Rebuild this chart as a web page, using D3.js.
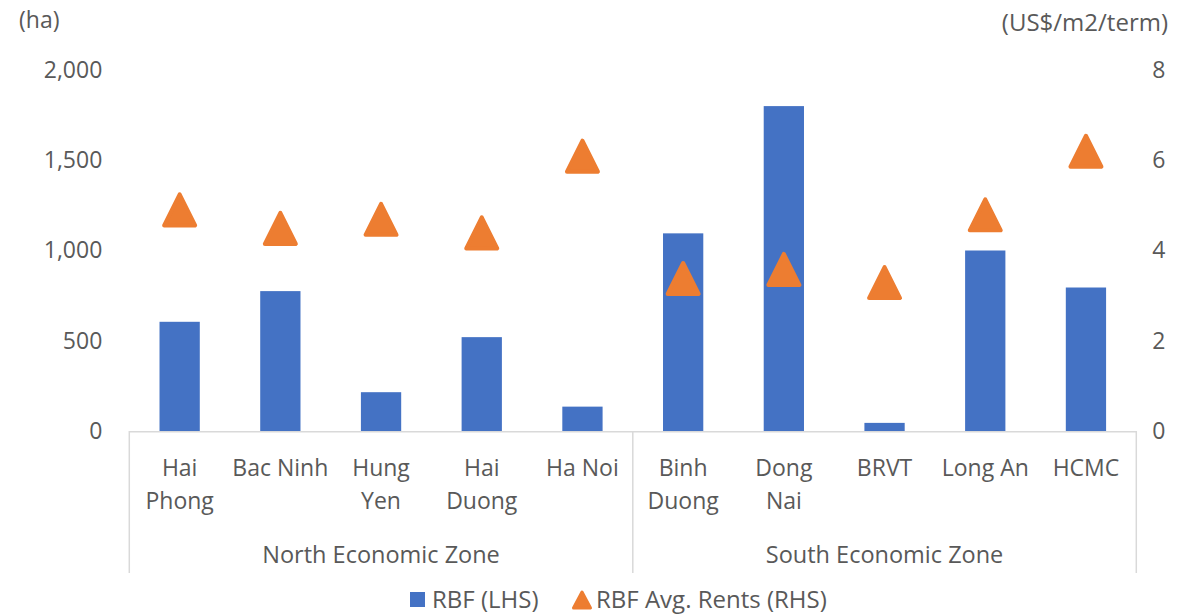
<!DOCTYPE html>
<html>
<head>
<meta charset="utf-8">
<script src="https://cdn.jsdelivr.net/npm/d3@7"></script>
<style>
  body { margin: 0; background: #fff; }
  text { font-family: "Open Sans", sans-serif; fill: #595959; }
</style>
</head>
<body>
<svg id="chart" width="1204" height="614"></svg>
<script>
// data
var cities = ["Hai Phong", "Bac Ninh", "Hung Yen", "Hai Duong", "Ha Noi",
              "Binh Duong", "Dong Nai", "BRVT", "Long An", "HCMC"];
var cityLines = [["Hai", "Phong"], ["Bac Ninh"], ["Hung", "Yen"], ["Hai", "Duong"], ["Ha Noi"],
                 ["Binh", "Duong"], ["Dong", "Nai"], ["BRVT"], ["Long An"], ["HCMC"]];
var zones = ["North Economic Zone", "North Economic Zone", "North Economic Zone", "North Economic Zone", "North Economic Zone",
             "South Economic Zone", "South Economic Zone", "South Economic Zone", "South Economic Zone", "South Economic Zone"];
var rbfArea = [605, 775, 215, 520, 135, 1095, 1800, 45, 1000, 795];
var avgRent = [4.9, 4.49, 4.69, 4.39, 6.09, 3.38, 3.58, 3.29, 4.79, 6.2];
var leftTicks = [0, 500, 1000, 1500, 2000];
var rightTicks = [0, 2, 4, 6, 8];

var svg = d3.select("#chart");
var plot = { left: 129.3, right: 1136.3, top: 70, bottom: 431 };
var fs = "23.5px";

var x = d3.scaleBand().domain(cities).range([plot.left, plot.right])
    .paddingInner(0.6).paddingOuter(0.3);
var yL = d3.scaleLinear().domain([0, 2000]).range([plot.bottom, plot.top]);
var yR = d3.scaleLinear().domain([0, 8]).range([plot.bottom, plot.top]);

//axes
var gl = svg.append("g").attr("transform", "translate(" + plot.left + ",0)")
    .call(d3.axisLeft(yL).tickValues(leftTicks).tickFormat(d3.format(",")).tickSize(0).tickPadding(27));
var gr = svg.append("g").attr("transform", "translate(" + plot.right + ",0)")
    .call(d3.axisRight(yR).tickValues(rightTicks).tickSize(0).tickPadding(16));
[gl, gr].forEach(function(g) {
    g.select(".domain").remove();
    g.selectAll("text").style("font-size", "23px").style("font-family", "Open Sans").attr("fill", "#595959");
});

svg.append("text").attr("x", 19).attr("y", 28).style("font-size", "23px").text("(ha)");
svg.append("text").attr("x", 1168).attr("y", 31).attr("text-anchor", "end").style("font-size", "24px").text("(US$/m2/term)");

//bars
svg.selectAll("rect.bar").data(cities).enter().append("rect")
    .attr("class", "bar")
    .attr("x", function(d) { return x(d); })
    .attr("width", x.bandwidth())
    .attr("y", function(d, i) { return yL(rbfArea[i]); })
    .attr("height", function(d, i) { return plot.bottom - yL(rbfArea[i]); })
    .attr("fill", "#4472C4");

// category axis with grouped zones
var grid = svg.append("g").attr("stroke", "#d9d9d9").attr("stroke-width", 1.5);
grid.append("line").attr("x1", plot.left).attr("x2", plot.right)
    .attr("y1", plot.bottom + 0.75).attr("y2", plot.bottom + 0.75);

var zoneNames = Array.from(new Set(zones));
var zoneEdges = [plot.left];
zoneNames.forEach(function(z) {
    var members = cities.filter(function(c, i) { return zones[i] === z; });
    var last = members[members.length - 1];
    zoneEdges.push(x(last) + x.bandwidth() + x.step() * x.paddingInner() / 2);
});
zoneEdges[zoneEdges.length - 1] = plot.right;
zoneEdges.forEach(function(e) {
    grid.append("line").attr("x1", e).attr("x2", e).attr("y1", plot.bottom).attr("y2", 573);
});

var labels = svg.selectAll("text.cat").data(cities).enter().append("text")
    .attr("class", "cat")
    .attr("text-anchor", "middle")
    .style("font-size", "23px")
    .attr("x", function(d) { return x(d) + x.bandwidth() / 2; })
    .attr("y", 476);
labels.selectAll("tspan").data(function(d, i) { return cityLines[i]; }).enter().append("tspan")
    .attr("x", function() { return d3.select(this.parentNode).attr("x"); })
    .attr("dy", function(d, i) { return i === 0 ? 0 : 33; })
    .text(function(d) { return d; });

svg.selectAll("text.zone").data(zoneNames).enter().append("text")
    .attr("class", "zone")
    .attr("text-anchor", "middle")
    .style("font-size", fs)
    .attr("x", function(d, i) { return (zoneEdges[i] + zoneEdges[i + 1]) / 2; })
    .attr("y", 563)
    .text(function(d) { return d; });

//triangles (Excel style: as tall as wide, rounded corners)
function triangle(w, h) {
    return "M0," + (-h / 2) + "L" + (w / 2) + "," + (h / 2) + "L" + (-w / 2) + "," + (h / 2) + "Z";
}
svg.selectAll("path.rent").data(cities).enter().append("path")
    .attr("class", "rent")
    .attr("d", triangle(31, 31))
    .attr("transform", function(d, i) {
        return "translate(" + (x(d) + x.bandwidth() / 2) + "," + yR(avgRent[i]) + ")";
    })
    .attr("fill", "#ED7D31")
    .attr("stroke", "#ED7D31")
    .attr("stroke-width", 4)
    .attr("stroke-linejoin", "round");

// legend
var lg = svg.append("g").attr("transform", "translate(0,600)");
lg.append("rect").attr("x", 410).attr("y", -8).attr("width", 15).attr("height", 15).attr("fill", "#4472C4");
lg.append("text").attr("x", 432).attr("y", 7.5).style("font-size", "24px").text("RBF (LHS)");
lg.append("path").attr("d", triangle(17, 16))
    .attr("transform", "translate(582,0)")
    .attr("fill", "#ED7D31").attr("stroke", "#ED7D31").attr("stroke-width", 3).attr("stroke-linejoin", "round");
lg.append("text").attr("x", 596).attr("y", 7.5).style("font-size", "24px").text("RBF Avg. Rents (RHS)");
</script>
</body>
</html>
